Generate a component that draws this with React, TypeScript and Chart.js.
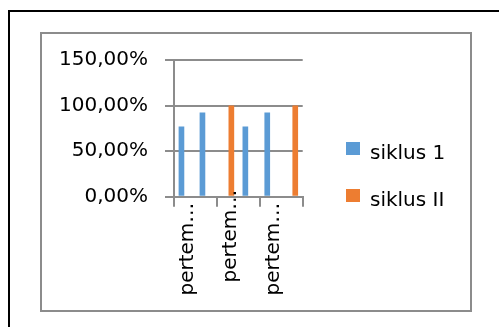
import React, { useEffect, useRef } from "react";
import { Chart, registerables } from "chart.js";

Chart.register(...registerables);

const categories = ["pertemuan 1", "pertemuan 2", "pertemuan 3"];
const seriesNames = ["siklus 1", "siklus II"];
const seriesColors = ["#5B9BD5", "#ED7D31"];

// Each meeting group holds five bar slots; null leaves a slot empty.
const slot1Values = [76.92, null, 92.31];
const slot2Values = [null, 100, null];
const slot3Values = [null, null, null];
const slot4Values = [92.31, 76.92, null];
const slot5Values = [null, null, 100];

// Series index of every bar (0 = siklus 1, 1 = siklus II).
const slot1Series = [0, null, 0];
const slot2Series = [null, 1, null];
const slot3Series = [null, null, null];
const slot4Series = [0, 0, null];
const slot5Series = [null, null, 1];

const yMin = 0;
const yMax = 150;
const yStep = 50;

const FONT = '"DejaVu Sans", sans-serif';
const GRID = "#8c8c8c";
const W = 499;
const H = 327;

// Chart frame (gray) and the surrounding cell rule (black).
const FRAME = { left: 40, top: 32, right: 472, bottom: 312 };

const formatPercent = (v: number) => `${v.toFixed(2).replace(".", ",")}%`;
const shortLabel = (s: string) => `${s.slice(0, 6)}…`;

// Rotated category labels; the middle one sits higher, pushed up by its overflow.
const labelShift = [0, -13, 0];

const framePlugin = {
  id: "frame",
  beforeDraw(chart: any) {
    const ctx = chart.ctx as CanvasRenderingContext2D;
    ctx.save();
    ctx.fillStyle = "#fff";
    ctx.fillRect(0, 0, chart.width, chart.height);
    ctx.fillStyle = "#000";
    ctx.fillRect(8, 10, chart.width - 8, 2);
    ctx.fillRect(8, 10, 2, chart.height - 10);
    ctx.strokeStyle = GRID;
    ctx.lineWidth = 2;
    ctx.strokeRect(
      FRAME.left + 1,
      FRAME.top + 1,
      FRAME.right - FRAME.left - 2,
      FRAME.bottom - FRAME.top - 2
    );
    ctx.restore();
  },
};

const xLabelPlugin = {
  id: "xLabels",
  afterDraw(chart: any) {
    const scale = chart.scales.x;
    const ctx = chart.ctx as CanvasRenderingContext2D;
    ctx.save();
    ctx.font = `20px ${FONT}`;
    ctx.fillStyle = "#000";
    ctx.textAlign = "right";
    ctx.textBaseline = "alphabetic";
    categories.forEach((c, i) => {
      const px = scale.getPixelForTick(i);
      ctx.save();
      ctx.translate(px - 2.5, scale.top + 6 + labelShift[i]);
      ctx.rotate(-Math.PI / 2);
      ctx.fillText(shortLabel(c), 0, 0);
      ctx.restore();
    });
    ctx.restore();
  },
};

// Series key to the right of the plot, centred in the frame.
const sideLegendPlugin = {
  id: "sideLegend",
  afterDraw(chart: any) {
    const ctx = chart.ctx as CanvasRenderingContext2D;
    const area = chart.chartArea;
    const rowGap = 47;
    const boxW = 14;
    const boxH = 13;
    const x0 = area.right + 43.3;
    const mid = (FRAME.top + FRAME.bottom) / 2;
    const firstCenter = mid - (rowGap * (seriesNames.length - 1)) / 2;
    ctx.save();
    ctx.font = `20px ${FONT}`;
    ctx.textAlign = "left";
    ctx.textBaseline = "alphabetic";
    seriesNames.forEach((name, i) => {
      const cy = firstCenter + i * rowGap;
      ctx.fillStyle = seriesColors[i];
      ctx.fillRect(x0, cy - boxH / 2, boxW, boxH);
      ctx.fillStyle = "#000";
      ctx.fillText(name, x0 + boxW + 10, cy + 10);
    });
    ctx.restore();
  },
};

export default function App() {
  const ref = useRef<HTMLCanvasElement>(null);

  useEffect(() => {
    const canvas = ref.current;
    if (!canvas) return;
    const slots = [
      { values: slot1Values, series: slot1Series },
      { values: slot2Values, series: slot2Series },
      { values: slot3Values, series: slot3Series },
      { values: slot4Values, series: slot4Series },
      { values: slot5Values, series: slot5Series },
    ];
    const chart = new Chart(canvas, {
      type: "bar",
      data: {
        labels: categories,
        datasets: slots.map((s, i) => ({
          label: `slot ${i + 1}`,
          data: s.values,
          backgroundColor: s.series.map((k) => (k == null ? "rgba(0,0,0,0)" : seriesColors[k])),
          borderWidth: 0,
          categoryPercentage: 0.816,
          barPercentage: 0.81,
        })),
      },
      options: {
        animation: false,
        responsive: false,
        maintainAspectRatio: false,
        layout: { padding: { top: 60, left: 42, right: 196.3, bottom: 44.4 } },
        scales: {
          x: {
            grid: {
              display: true,
              drawOnChartArea: false,
              drawTicks: true,
              tickLength: 10,
              color: GRID,
              lineWidth: 2,
              offset: true,
            },
            border: { display: true, color: GRID, width: 2 },
            ticks: { display: false },
            afterFit: (s: any) => {
              s.height = 85.9;
            },
          },
          y: {
            min: yMin,
            max: yMax,
            ticks: {
              stepSize: yStep,
              padding: 17,
              color: "#000",
              font: { family: FONT, size: 20 },
              callback: (v: any) => formatPercent(Number(v)),
            },
            grid: { color: GRID, lineWidth: 2, tickLength: 9 },
            border: { color: GRID, width: 2 },
            afterFit: (s: any) => {
              s.width = 132;
            },
          },
        },
        plugins: {
          legend: { display: false },
          tooltip: { enabled: false },
        },
      } as any,
      plugins: [framePlugin, xLabelPlugin, sideLegendPlugin],
    });
    return () => chart.destroy();
  }, []);

  return (
    <div
      style={{
        position: "absolute",
        left: 0,
        top: 0,
        width: W,
        height: H,
        background: "#fff",
        overflow: "hidden",
      }}
    >
      <canvas
        ref={ref}
        width={W}
        height={H}
        style={{ position: "absolute", left: 0, top: 0, width: W, height: H, display: "block" }}
      />
    </div>
  );
}
